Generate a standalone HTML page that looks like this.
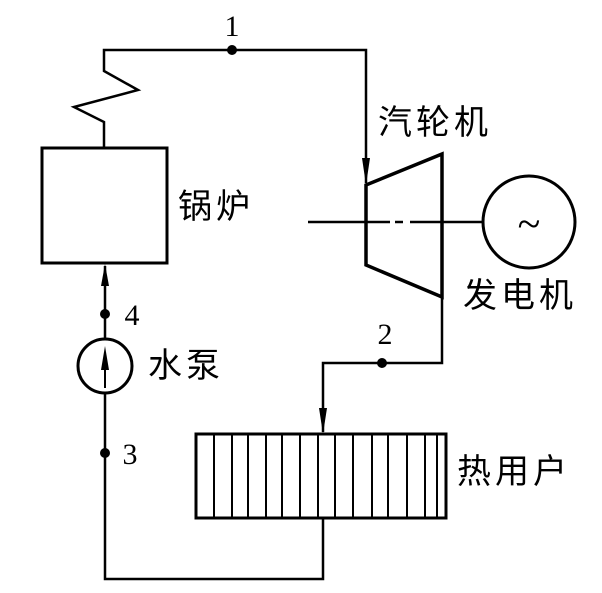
<!DOCTYPE html>
<html><head><meta charset="utf-8"><style>
html,body{margin:0;padding:0;background:#fff;}
svg{display:block;}
text{font-family:"Liberation Serif","Noto Sans CJK SC",serif;fill:#000;}
.cn{font-family:"Liberation Sans","Noto Sans CJK SC",sans-serif;letter-spacing:4px;}
</style></head><body>
<svg width="602" height="593" viewBox="0 0 602 593" xmlns="http://www.w3.org/2000/svg">
<g stroke="#000" stroke-width="2.5" fill="none">
<polyline points="104,148 104,122 74,107 138,90 104,71 104,50 366,50 366,183"/>
<rect x="42" y="148" width="125" height="115" stroke-width="3"/>
<polygon points="366,185 442,154 442,297 366,265" stroke-width="3.5"/>
<line x1="308" y1="222" x2="390" y2="222"/>
<line x1="395" y1="222" x2="403" y2="222"/>
<line x1="410" y1="222" x2="483" y2="222"/>
<circle cx="529" cy="222" r="46" stroke-width="3"/>
<polyline points="442,297 442,363 323,363 323,432"/>
<rect x="196" y="434" width="250" height="84" stroke-width="3"/>
<g stroke-width="2">
<line x1="214" y1="434" x2="214" y2="518"/><line x1="232" y1="434" x2="232" y2="518"/>
<line x1="248" y1="434" x2="248" y2="518"/><line x1="266" y1="434" x2="266" y2="518"/>
<line x1="282" y1="434" x2="282" y2="518"/><line x1="300" y1="434" x2="300" y2="518"/>
<line x1="318" y1="434" x2="318" y2="518"/><line x1="335" y1="434" x2="335" y2="518"/>
<line x1="353" y1="434" x2="353" y2="518"/><line x1="372" y1="434" x2="372" y2="518"/>
<line x1="388" y1="434" x2="388" y2="518"/><line x1="407" y1="434" x2="407" y2="518"/>
<line x1="425" y1="434" x2="425" y2="518"/><line x1="437" y1="434" x2="437" y2="518"/>
</g>
<polyline points="323,518 323,579 105,579 105,393"/>
<line x1="105" y1="339" x2="105" y2="266"/>
<circle cx="105" cy="366" r="27" stroke-width="3"/>
<line x1="105" y1="355" x2="105" y2="388" stroke-width="2"/>
</g>
<g fill="#000">
<polygon points="366,185 362,158 370,158"/>
<polygon points="323,434 319,408 327,408"/>
<polygon points="105,264 101,286 109,286"/>
<polygon points="105,346 101,370 109,370"/>
<circle cx="232" cy="50" r="5"/>
<circle cx="382" cy="363" r="5"/>
<circle cx="105" cy="314" r="5"/>
<circle cx="105" cy="453" r="5"/>
</g>
<text x="232" y="36" font-size="30" text-anchor="middle">1</text>
<text x="385" y="344" font-size="30" text-anchor="middle">2</text>
<text x="130" y="464" font-size="30" text-anchor="middle">3</text>
<text x="132" y="325" font-size="30" text-anchor="middle">4</text>
<text x="529" y="238" font-size="42" text-anchor="middle">~</text>
<text class="cn" x="378" y="134" font-size="34">汽轮机</text>
<text class="cn" x="178" y="218" font-size="34">锅炉</text>
<text class="cn" x="463" y="307" font-size="34">发电机</text>
<text class="cn" x="148" y="377" font-size="34">水泵</text>
<text class="cn" x="457" y="483" font-size="34">热用户</text>
</svg>
</body></html>
